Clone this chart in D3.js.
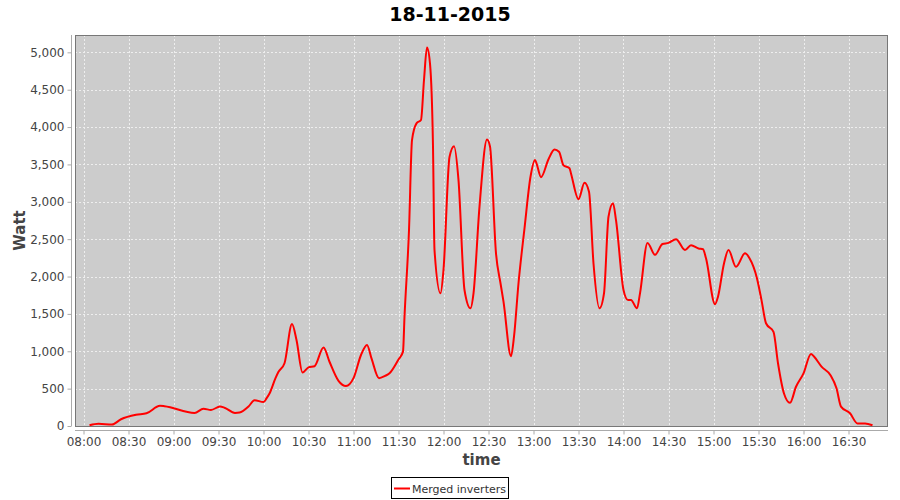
<!DOCTYPE html>
<html>
<head>
<meta charset="utf-8">
<script src="https://cdn.jsdelivr.net/npm/d3@7"></script>
<style>
body { margin: 0; background: #fff; }
text { font-family: "DejaVu Sans", sans-serif; }
</style>
</head>
<body>
<div class="chart"></div>
<script>
var title = "18-11-2015";
var seriesName = "Merged inverters";
var times = ["08:04","08:10","08:19","08:25","08:35","08:42","08:51","08:54","09:14","09:20","09:25","09:31","09:34","09:41","09:44","09:50","09:54","10:00","10:02","10:04","10:08","10:10","10:14","10:19","10:22","10:26","10:30","10:34","10:40","10:44","10:50","10:55","11:00","11:05","11:09","11:12","11:17","11:21","11:24","11:30","11:33","11:34","11:37","11:39","11:42","11:45","11:47","11:49","11:51","11:53","11:54","11:58","12:00","12:04","12:07","12:10","12:14","12:18","12:20","12:24","12:29","12:31","12:35","12:38","12:40","12:45","12:47","12:50","12:54","12:58","13:01","13:02","13:05","13:10","13:14","13:17","13:20","13:24","13:25","13:30","13:34","13:37","13:40","13:44","13:47","13:50","13:53","13:55","14:00","14:03","14:05","14:09","14:11","14:16","14:21","14:26","14:30","14:35","14:41","14:45","14:50","14:53","14:55","15:01","15:03","15:07","15:10","15:15","15:21","15:24","15:29","15:32","15:35","15:40","15:43","15:47","15:51","15:55","16:00","16:05","16:07","16:12","16:18","16:22","16:25","16:31","16:36","16:41","16:46"];
var watts = [10,30,20,90,150,170,270,265,175,230,215,260,245,175,180,260,345,320,370,435,640,725,840,1365,1150,715,785,800,1050,860,605,535,640,950,1085,905,640,670,705,890,995,1460,2620,3825,4050,4095,4630,5065,4850,3740,2355,1775,2090,3600,3745,3290,1820,1575,1775,2935,3835,3740,2310,1910,1665,935,1195,1910,2645,3335,3560,3515,3330,3570,3700,3670,3490,3450,3380,3035,3255,3135,2175,1575,1775,2800,2980,2755,1820,1685,1685,1575,1775,2450,2290,2435,2450,2500,2355,2420,2375,2365,2245,1630,1730,2175,2355,2130,2310,2245,1975,1685,1375,1260,840,435,310,525,705,965,930,795,680,505,260,170,35,35,10];
var yTicks = [0,500,1000,1500,2000,2500,3000,3500,4000,4500,5000];

var width = 900, height = 500;
var plot = {left: 75, right: 888, top: 35, bottom: 426};

var svg = d3.select(".chart").append("svg")
    .attr("width", width)
    .attr("height", height);

var parse = d3.timeParse("%Y-%m-%d %H:%M");
var data = times.map(function(t, i) { return {t: parse("2015-11-18 " + t), v: watts[i]}; });

var x = d3.scaleTime()
    .domain([parse("2015-11-18 07:54").getTime() + 20000, parse("2015-11-18 16:56").getTime() + 20000])
    .range([plot.left, plot.right]);
var y = d3.scaleLinear()
    .domain([0, 5232])
    .range([plot.bottom, plot.top]);

// plot background
svg.append("rect")
    .attr("x", plot.left).attr("y", plot.top)
    .attr("width", plot.right - plot.left).attr("height", plot.bottom - plot.top)
    .attr("fill", "#cccccc");

var xTicks = x.ticks(d3.timeMinute.every(30));

// grid
svg.append("g").selectAll("line")
    .data(xTicks)
    .enter().append("line")
    .attr("x1", function(d) { return Math.round(x(d)) + 0.5; })
    .attr("x2", function(d) { return Math.round(x(d)) + 0.5; })
    .attr("y1", plot.top).attr("y2", plot.bottom)
    .attr("stroke", "#eeeeee").attr("stroke-width", 1).attr("stroke-dasharray", "2,2");
svg.append("g").selectAll("line")
    .data(yTicks.slice(1))
    .enter().append("line")
    .attr("y1", function(d) { return Math.round(y(d)) + 0.5; })
    .attr("y2", function(d) { return Math.round(y(d)) + 0.5; })
    .attr("x1", plot.left).attr("x2", plot.right)
    .attr("stroke", "#eeeeee").attr("stroke-width", 1).attr("stroke-dasharray", "2,2");

// plot border
svg.append("rect")
    .attr("x", plot.left + 0.5).attr("y", plot.top + 0.5)
    .attr("width", plot.right - plot.left - 1).attr("height", plot.bottom - plot.top)
    .attr("fill", "none").attr("stroke", "#777777");

// axes, offset 4px from the plot
var yAxis = svg.append("g")
    .attr("transform", "translate(" + (plot.left - 3.5) + ",0)")
    .call(d3.axisLeft(y).tickValues(yTicks).tickSize(4).tickPadding(3).tickFormat(d3.format(",")));
var xAxis = svg.append("g")
    .attr("transform", "translate(0," + (plot.bottom + 4.5) + ")")
    .call(d3.axisBottom(x).tickValues(xTicks).tickSize(4).tickPadding(3).tickFormat(d3.timeFormat("%H:%M")));

[yAxis, xAxis].forEach(function(a) {
  a.select(".domain").attr("stroke", "#aaaaaa");
  a.selectAll(".tick line").attr("stroke", "#aaaaaa");
  a.selectAll(".tick text").attr("fill", "#444444").style("font-size", "12px").style("font-family", "DejaVu Sans, sans-serif");
});
yAxis.select(".domain").attr("d", "M0," + plot.top + "V" + plot.bottom);
xAxis.select(".domain").attr("d", "M" + plot.left + ",0H" + plot.right);

// series line
var line = d3.line()
    .x(function(d) { return x(d.t); })
    .y(function(d) { return y(d.v); })
    .curve(d3.curveMonotoneX);

svg.append("path")
    .datum(data)
    .attr("d", line)
    .attr("fill", "none")
    .attr("stroke", "#ff0000")
    .attr("stroke-width", 2)
    .attr("stroke-linejoin", "round");

// titles
svg.append("text")
    .attr("x", 450).attr("y", 21)
    .attr("text-anchor", "middle")
    .style("font-size", "19px").style("font-weight", "bold")
    .attr("fill", "#000")
    .text(title);

svg.append("text")
    .attr("transform", "translate(25," + ((plot.top + plot.bottom) / 2) + ") rotate(-90)")
    .attr("text-anchor", "middle")
    .style("font-size", "15px").style("font-weight", "bold")
    .attr("fill", "#444")
    .text("Watt");

svg.append("text")
    .attr("x", (plot.left + plot.right) / 2).attr("y", 465)
    .attr("text-anchor", "middle")
    .style("font-size", "15px").style("font-weight", "bold")
    .attr("fill", "#444")
    .text("time");

// legend
var legend = svg.append("g");
legend.append("rect")
    .attr("x", 391.5).attr("y", 477.5).attr("width", 117).attr("height", 21)
    .attr("fill", "#fff").attr("stroke", "#000");
legend.append("line")
    .attr("x1", 394).attr("x2", 410).attr("y1", 488.5).attr("y2", 488.5)
    .attr("stroke", "#ff0000").attr("stroke-width", 2);
legend.append("text")
    .attr("x", 412).attr("y", 492.5)
    .style("font-size", "11px")
    .attr("fill", "#333")
    .text(seriesName);
</script>
</body>
</html>
